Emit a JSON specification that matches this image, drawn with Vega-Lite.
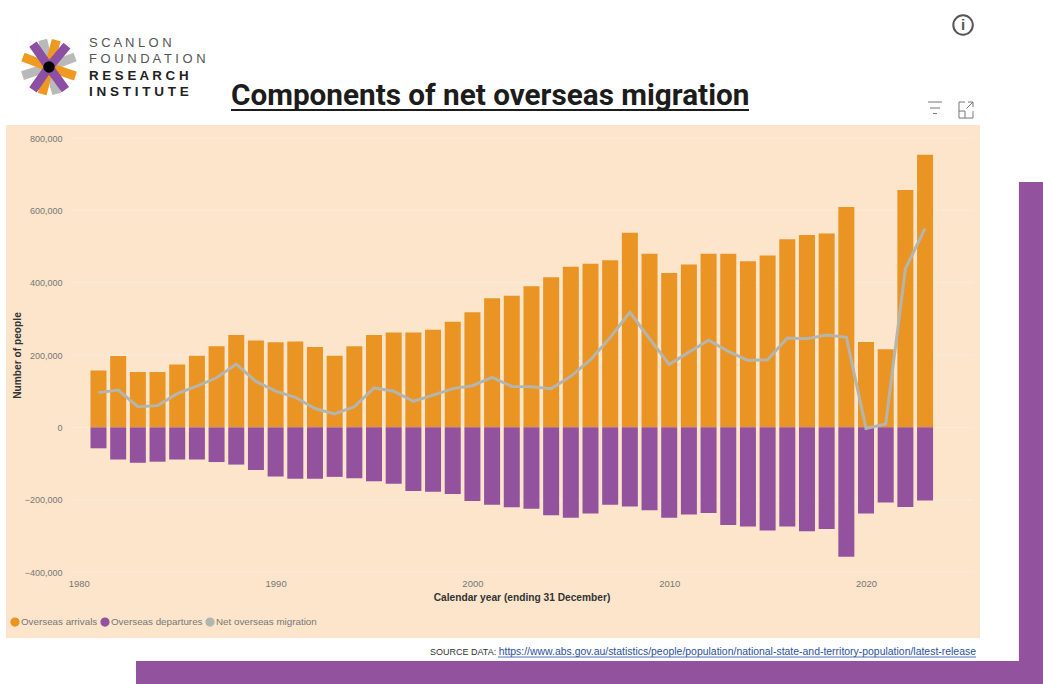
{"$schema":"https://vega.github.io/schema/vega-lite/v6.json","width":903,"height":434,"autosize":{"type":"none"},"padding":{"left":70,"top":138,"right":70,"bottom":112},"background":"#ffffff","config":{"view":{"stroke":null}},
"datasets":{"migration":[
{"year":1981,"series":"Overseas arrivals","value":157000},{"year":1982,"series":"Overseas arrivals","value":197000},{"year":1983,"series":"Overseas arrivals","value":153000},{"year":1984,"series":"Overseas arrivals","value":153000},{"year":1985,"series":"Overseas arrivals","value":174000},{"year":1986,"series":"Overseas arrivals","value":198000},{"year":1987,"series":"Overseas arrivals","value":224000},{"year":1988,"series":"Overseas arrivals","value":255000},{"year":1989,"series":"Overseas arrivals","value":240000},{"year":1990,"series":"Overseas arrivals","value":235000},{"year":1991,"series":"Overseas arrivals","value":237000},{"year":1992,"series":"Overseas arrivals","value":222000},{"year":1993,"series":"Overseas arrivals","value":198000},{"year":1994,"series":"Overseas arrivals","value":224000},{"year":1995,"series":"Overseas arrivals","value":255000},{"year":1996,"series":"Overseas arrivals","value":262000},{"year":1997,"series":"Overseas arrivals","value":262000},{"year":1998,"series":"Overseas arrivals","value":270000},{"year":1999,"series":"Overseas arrivals","value":292000},{"year":2000,"series":"Overseas arrivals","value":318000},{"year":2001,"series":"Overseas arrivals","value":357000},{"year":2002,"series":"Overseas arrivals","value":364000},{"year":2003,"series":"Overseas arrivals","value":390000},{"year":2004,"series":"Overseas arrivals","value":415000},{"year":2005,"series":"Overseas arrivals","value":444000},{"year":2006,"series":"Overseas arrivals","value":452000},{"year":2007,"series":"Overseas arrivals","value":462000},{"year":2008,"series":"Overseas arrivals","value":538000},{"year":2009,"series":"Overseas arrivals","value":480000},{"year":2010,"series":"Overseas arrivals","value":427000},{"year":2011,"series":"Overseas arrivals","value":450000},{"year":2012,"series":"Overseas arrivals","value":480000},{"year":2013,"series":"Overseas arrivals","value":480000},{"year":2014,"series":"Overseas arrivals","value":459000},{"year":2015,"series":"Overseas arrivals","value":475000},{"year":2016,"series":"Overseas arrivals","value":520000},{"year":2017,"series":"Overseas arrivals","value":532000},{"year":2018,"series":"Overseas arrivals","value":536000},{"year":2019,"series":"Overseas arrivals","value":609000},{"year":2020,"series":"Overseas arrivals","value":236000},{"year":2021,"series":"Overseas arrivals","value":216000},{"year":2022,"series":"Overseas arrivals","value":656000},{"year":2023,"series":"Overseas arrivals","value":754000},
{"year":1981,"series":"Overseas departures","value":-58000},{"year":1982,"series":"Overseas departures","value":-89000},{"year":1983,"series":"Overseas departures","value":-98000},{"year":1984,"series":"Overseas departures","value":-95000},{"year":1985,"series":"Overseas departures","value":-89000},{"year":1986,"series":"Overseas departures","value":-89000},{"year":1987,"series":"Overseas departures","value":-96000},{"year":1988,"series":"Overseas departures","value":-103000},{"year":1989,"series":"Overseas departures","value":-118000},{"year":1990,"series":"Overseas departures","value":-136000},{"year":1991,"series":"Overseas departures","value":-142000},{"year":1992,"series":"Overseas departures","value":-142000},{"year":1993,"series":"Overseas departures","value":-137000},{"year":1994,"series":"Overseas departures","value":-141000},{"year":1995,"series":"Overseas departures","value":-149000},{"year":1996,"series":"Overseas departures","value":-156000},{"year":1997,"series":"Overseas departures","value":-176000},{"year":1998,"series":"Overseas departures","value":-178000},{"year":1999,"series":"Overseas departures","value":-184000},{"year":2000,"series":"Overseas departures","value":-204000},{"year":2001,"series":"Overseas departures","value":-214000},{"year":2002,"series":"Overseas departures","value":-221000},{"year":2003,"series":"Overseas departures","value":-225000},{"year":2004,"series":"Overseas departures","value":-243000},{"year":2005,"series":"Overseas departures","value":-250000},{"year":2006,"series":"Overseas departures","value":-238000},{"year":2007,"series":"Overseas departures","value":-214000},{"year":2008,"series":"Overseas departures","value":-219000},{"year":2009,"series":"Overseas departures","value":-229000},{"year":2010,"series":"Overseas departures","value":-250000},{"year":2011,"series":"Overseas departures","value":-241000},{"year":2012,"series":"Overseas departures","value":-237000},{"year":2013,"series":"Overseas departures","value":-270000},{"year":2014,"series":"Overseas departures","value":-274000},{"year":2015,"series":"Overseas departures","value":-285000},{"year":2016,"series":"Overseas departures","value":-274000},{"year":2017,"series":"Overseas departures","value":-287000},{"year":2018,"series":"Overseas departures","value":-281000},{"year":2019,"series":"Overseas departures","value":-358000},{"year":2020,"series":"Overseas departures","value":-238000},{"year":2021,"series":"Overseas departures","value":-208000},{"year":2022,"series":"Overseas departures","value":-220000},{"year":2023,"series":"Overseas departures","value":-202000},
{"year":1981,"series":"Net overseas migration","value":96000},{"year":1982,"series":"Net overseas migration","value":103000},{"year":1983,"series":"Net overseas migration","value":57000},{"year":1984,"series":"Net overseas migration","value":60000},{"year":1985,"series":"Net overseas migration","value":93000},{"year":1986,"series":"Net overseas migration","value":114000},{"year":1987,"series":"Net overseas migration","value":137000},{"year":1988,"series":"Net overseas migration","value":175000},{"year":1989,"series":"Net overseas migration","value":127000},{"year":1990,"series":"Net overseas migration","value":100000},{"year":1991,"series":"Net overseas migration","value":83000},{"year":1992,"series":"Net overseas migration","value":52000},{"year":1993,"series":"Net overseas migration","value":37000},{"year":1994,"series":"Net overseas migration","value":57000},{"year":1995,"series":"Net overseas migration","value":109000},{"year":1996,"series":"Net overseas migration","value":100000},{"year":1997,"series":"Net overseas migration","value":72000},{"year":1998,"series":"Net overseas migration","value":89000},{"year":1999,"series":"Net overseas migration","value":107000},{"year":2000,"series":"Net overseas migration","value":115000},{"year":2001,"series":"Net overseas migration","value":138000},{"year":2002,"series":"Net overseas migration","value":113000},{"year":2003,"series":"Net overseas migration","value":112000},{"year":2004,"series":"Net overseas migration","value":107000},{"year":2005,"series":"Net overseas migration","value":141000},{"year":2006,"series":"Net overseas migration","value":187000},{"year":2007,"series":"Net overseas migration","value":248000},{"year":2008,"series":"Net overseas migration","value":318000},{"year":2009,"series":"Net overseas migration","value":245000},{"year":2010,"series":"Net overseas migration","value":174000},{"year":2011,"series":"Net overseas migration","value":208000},{"year":2012,"series":"Net overseas migration","value":241000},{"year":2013,"series":"Net overseas migration","value":210000},{"year":2014,"series":"Net overseas migration","value":185000},{"year":2015,"series":"Net overseas migration","value":187000},{"year":2016,"series":"Net overseas migration","value":247000},{"year":2017,"series":"Net overseas migration","value":245000},{"year":2018,"series":"Net overseas migration","value":255000},{"year":2019,"series":"Net overseas migration","value":249000},{"year":2020,"series":"Net overseas migration","value":-3000},{"year":2021,"series":"Net overseas migration","value":9000},{"year":2022,"series":"Net overseas migration","value":438000},{"year":2023,"series":"Net overseas migration","value":550000}
],"ticks":[{"tick":-400000},{"tick":-200000},{"tick":0},{"tick":200000},{"tick":400000},{"tick":600000},{"tick":800000}],"one":[{}]},
"data":{"name":"migration"},
"layer":[
{"data":{"name":"one"},"mark":{"type":"rect","color":"#fce5cb"},"encoding":{"x":{"datum":1976.3,"type":"quantitative"},"x2":{"datum":2025.79},"y":{"datum":835900,"type":"quantitative"},"y2":{"datum":-582600}}},
{"data":{"name":"one"},"mark":{"type":"rect","color":"#93529e"},"encoding":{"x":{"datum":2027.77,"type":"quantitative"},"x2":{"datum":2029.5},"y":{"datum":678300,"type":"quantitative"},"y2":{"datum":-709800}}},
{"data":{"name":"one"},"mark":{"type":"rect","color":"#93529e"},"encoding":{"x":{"datum":1982.905,"type":"quantitative"},"x2":{"datum":2029.5},"y":{"datum":-646200,"type":"quantitative"},"y2":{"datum":-709800}}},
{"data":{"name":"ticks"},"mark":{"type":"rule","color":"#f7ecdd","strokeWidth":1},"encoding":{"y":{"field":"tick","type":"quantitative"}}},
{"transform":[{"filter":"datum.series !== 'Net overseas migration'"}],"mark":{"type":"bar","size":16},"encoding":{
"x":{"field":"year","type":"quantitative","scale":{"domain":[1979.552,2025.436],"nice":false,"zero":false,"padding":0},"axis":{"zindex":1,"title":"Calendar year (ending 31 December)","values":[1980,1990,2000,2010,2020],"labelExpr":"format(datum.value, 'd')","grid":false,"domain":false,"ticks":false,"labelFont":"Liberation Sans","labelFontSize":9.5,"labelColor":"#777777","labelPadding":6,"titleFont":"Liberation Sans","titleFontSize":10.2,"titleFontWeight":"bold","titleColor":"#333333","titlePadding":5}},
"y":{"field":"value","type":"quantitative","scale":{"domain":[-400000,800000],"nice":false,"zero":false,"padding":0},"axis":{"zindex":1,"title":"Number of people","values":[-400000,-200000,0,200000,400000,600000,800000],"labelExpr":"format(datum.value, ',')","grid":false,"domain":false,"ticks":false,"labelFont":"Liberation Sans","labelFontSize":9,"labelColor":"#777777","labelPadding":8,"titleFont":"Liberation Sans","titleFontSize":10.2,"titleFontWeight":"bold","titleColor":"#333333","titlePadding":2}},
"color":{"field":"series","type":"nominal","scale":{"domain":["Overseas arrivals","Overseas departures","Net overseas migration"],"range":["#e99423","#93529e","#b5b5b0"]},"legend":{"title":null,"orient":"none","legendX":-60,"legendY":479,"direction":"horizontal","symbolType":"circle","symbolSize":60,"symbolOpacity":1,"labelFont":"Liberation Sans","labelFontSize":9.8,"labelColor":"#777777","columnPadding":0,"labelOffset":1}}}},
{"transform":[{"filter":"datum.series === 'Net overseas migration'"}],"mark":{"type":"line","strokeWidth":3,"interpolate":"linear"},"encoding":{"x":{"field":"year","type":"quantitative"},"y":{"field":"value","type":"quantitative"},"color":{"field":"series","type":"nominal"}}},
{"data":{"name":"one"},"mark":{"type":"point","filled":true,"opacity":1,"size":3600,"color":"#b9b9b9","shape":"M-.146 .034L.146 -.034L-.063 -.94L-.355 -.872ZM-.054 -.14L.054 .14L.923 -.193L.815 -.473ZM.144 -.041L-.144 .041L.113 .935L.401 .853ZM.046 .143L-.046 -.143L-.93 .144L-.838 .43Z"},"encoding":{"x":{"datum":1978.485,"type":"quantitative"},"y":{"datum":996200,"type":"quantitative"}}},
{"data":{"name":"one"},"mark":{"type":"point","filled":true,"opacity":1,"size":3600,"color":"#ee9a21","shape":"M-.145 -.039L.145 .039L.386 -.859L.096 -.937ZM.049 -.142L-.049 .142L.831 .445L.929 .161ZM.146 .036L-.146 -.036L-.371 .866L-.079 .938ZM-.054 .14L.054 -.14L-.815 -.473L-.923 -.193Z"},"encoding":{"x":{"datum":1978.485,"type":"quantitative"},"y":{"datum":996200,"type":"quantitative"}}},
{"data":{"name":"one"},"mark":{"type":"point","filled":true,"opacity":1,"size":3600,"color":"#8c4fa3","shape":"M-.115 -.096L.115 .096L.713 -.616L.483 -.808ZM.121 -.088L-.121 .088L.426 .84L.668 .664ZM.123 .086L-.123 -.086L-.657 .676L-.411 .848ZM-.123 .086L.123 -.086L-.411 -.848L-.657 -.676Z"},"encoding":{"x":{"datum":1978.485,"type":"quantitative"},"y":{"datum":996200,"type":"quantitative"}}},
{"data":{"name":"one"},"mark":{"type":"point","filled":true,"opacity":1,"size":130,"shape":"circle","color":"#000000"},"encoding":{"x":{"datum":1978.485,"type":"quantitative"},"y":{"datum":996200,"type":"quantitative"}}},
{"data":{"name":"one"},"mark":{"type":"text","text":"S C A N L O N","align":"left","baseline":"middle","font":"Liberation Sans","fontSize":13,"color":"#555555"},"encoding":{"x":{"datum":1980.517,"type":"quantitative"},"y":{"datum":1062600,"type":"quantitative"}}},
{"data":{"name":"one"},"mark":{"type":"text","text":"F O U N D A T I O N","align":"left","baseline":"middle","font":"Liberation Sans","fontSize":13,"color":"#555555"},"encoding":{"x":{"datum":1980.517,"type":"quantitative"},"y":{"datum":1018350,"type":"quantitative"}}},
{"data":{"name":"one"},"mark":{"type":"text","text":"R E S E A R C H","align":"left","baseline":"middle","font":"Liberation Sans","fontSize":13.3,"fontWeight":"bold","color":"#222222"},"encoding":{"x":{"datum":1980.517,"type":"quantitative"},"y":{"datum":971300,"type":"quantitative"}}},
{"data":{"name":"one"},"mark":{"type":"text","text":"I N S T I T U T E","align":"left","baseline":"middle","font":"Liberation Sans","fontSize":13.5,"fontWeight":"bold","color":"#222222"},"encoding":{"x":{"datum":1980.517,"type":"quantitative"},"y":{"datum":927100,"type":"quantitative"}}},
{"data":{"name":"one"},"mark":{"type":"text","text":"Components of net overseas migration","align":"left","baseline":"alphabetic","font":"Roboto","fontSize":29.7,"fontWeight":"bold","color":"#1c1c1c"},"encoding":{"x":{"datum":1987.733,"type":"quantitative"},"y":{"datum":891160,"type":"quantitative"}}},
{"data":{"name":"one"},"mark":{"type":"rule","color":"#1c1c1c","strokeWidth":2},"encoding":{"x":{"datum":1987.733,"type":"quantitative"},"x2":{"datum":2014.054},"y":{"datum":877300,"type":"quantitative"}}},
{"data":{"name":"one"},"mark":{"type":"text","text":"SOURCE DATA:","align":"left","baseline":"middle","font":"Liberation Sans","fontSize":9,"color":"#333333"},"encoding":{"x":{"datum":1997.844,"type":"quantitative"},"y":{"datum":-621300,"type":"quantitative"}}},
{"data":{"name":"one"},"mark":{"type":"text","text":"https://www.abs.gov.au/statistics/people/population/national-state-and-territory-population/latest-release","align":"right","baseline":"middle","font":"Liberation Sans","fontSize":10.45,"color":"#2a4f9e"},"encoding":{"x":{"datum":2025.588,"type":"quantitative"},"y":{"datum":-621300,"type":"quantitative"}}},
{"data":{"name":"one"},"mark":{"type":"rule","color":"#2a4f9e","strokeWidth":0.8},"encoding":{"x":{"datum":2001.3,"type":"quantitative"},"x2":{"datum":2025.588},"y":{"datum":-635100,"type":"quantitative"}}},
{"data":{"name":"one"},"mark":{"type":"point","filled":false,"opacity":1,"size":380,"shape":"circle","color":"#555555","strokeWidth":2},"encoding":{"x":{"datum":2024.93,"type":"quantitative"},"y":{"datum":1112400,"type":"quantitative"}}},
{"data":{"name":"one"},"mark":{"type":"text","text":"i","align":"center","baseline":"middle","font":"Liberation Sans","fontSize":15,"fontWeight":"bold","color":"#555555"},"encoding":{"x":{"datum":2024.93,"type":"quantitative"},"y":{"datum":1112400,"type":"quantitative"}}},
{"data":{"name":"one"},"mark":{"type":"point","filled":false,"opacity":1,"size":400,"color":"#777777","strokeWidth":1,"shape":"M-.7 -.6L.7 -.6M-.5 0L.5 0M-.2 .55L.2 .55"},"encoding":{"x":{"datum":2023.505,"type":"quantitative"},"y":{"datum":882900,"type":"quantitative"}}},
{"data":{"name":"one"},"mark":{"type":"point","filled":false,"opacity":1,"size":400,"color":"#777777","strokeWidth":1,"shape":"M-.7 -.2L-.7 .8L.7 .8L.7 .1M-.1 .8L-.1 .1L-.7 .1M-.7 -.2L-.7 -.8L-.1 -.8M.2 -.8L.7 -.8L.7 -.3M.7 -.8L.05 -.15"},"encoding":{"x":{"datum":2025.08,"type":"quantitative"},"y":{"datum":877300,"type":"quantitative"}}}
]}
